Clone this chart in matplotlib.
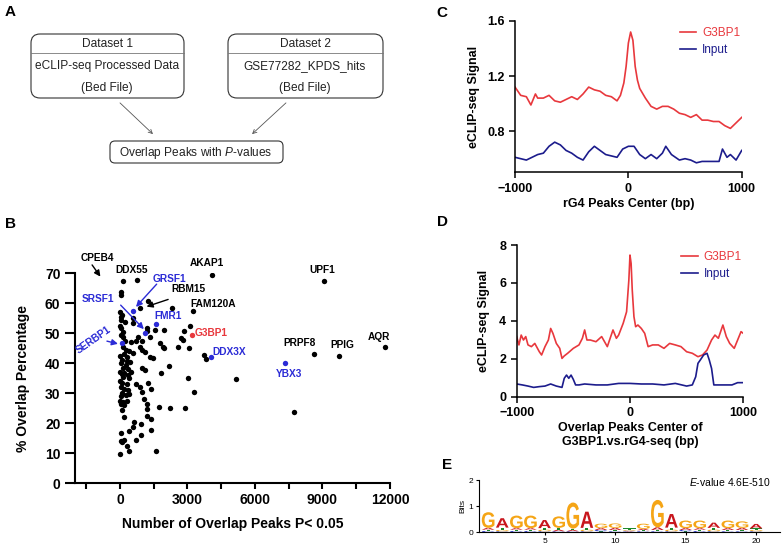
import matplotlib
matplotlib.use('Agg')
import matplotlib.pyplot as plt
from matplotlib.patches import FancyBboxPatch, PathPatch
from matplotlib.textpath import TextPath
from matplotlib.font_manager import FontProperties
from matplotlib.transforms import Affine2D

plt.rcParams['font.family'] = 'Liberation Sans'
plt.rcParams['mathtext.fontset'] = 'custom'
plt.rcParams['mathtext.rm'] = 'Liberation Sans'
plt.rcParams['mathtext.it'] = 'Liberation Sans:italic'
plt.rcParams['mathtext.bf'] = 'Liberation Sans:bold'

RED = '#e8383d'
NAVY = '#1c1c8c'
BLUE = '#2b2bd6'

# ---- panel B data: overlap peaks vs % overlap
peaks_x = [150, 740, 4090, 30, 30, 890, 1230, 2290, 3250, 9050, 8640, 9720, 11790, 7750,
           30, 60, 220, 560, 560, 40, 150, 30, 150, 220, 480, 1200, 1200, 1550, 1950, 1330, 800, 700, 1000, 0, 100, 0,
           3100, 2860, 2710, 2800, 2560, 3070, 3720, 3840, 890, 1000, 1100, 1770, 1900, 1960, 1330, 1480, 2190, 1000,
           1100, 1820, 3030, 5170, 3300,
           150, 250, 400, 200, 300, 100, 450, 50, 250, 150, 350, 500, 80, 0, 200, 350, 600, 0, 300,
           150, 400, 0, 100, 300, 710, 890, 960, 1230, 1360, 60, 200, 350, 100, 250, 30, 400, 1080, 0, 150, 300, 60,
           200, 1200, 1200, 1740, 2220, 2880, 75,
           180, 1180, 1370, 620, 560, 930, 1360, 30, 410, 920, 710, 30, 100, 180, 320, 410, 1600, 0]
overlap_pct = [67.4, 67.7, 69.2, 63.8, 62.7, 58.2, 60.8, 58.2, 57.4, 67.4, 43.0, 42.4, 45.4, 23.7,
               55.5, 54.2, 53.8, 54.9, 53.2, 51.7, 50.5, 49.2, 48.7, 47.2, 47.0, 51.7, 50.7, 51.0, 51.0, 48.6, 48.8, 47.5,
               47.3, 57.0, 56.0, 52.5,
               52.3, 50.7, 48.3, 47.8, 45.4, 45.1, 42.7, 41.4, 45.2, 44.5, 43.7, 46.8, 45.5, 45.0, 42.1, 41.6, 39.0, 38.3,
               37.8, 36.6, 34.9, 34.7, 30.4,
               45.5, 44.5, 44.0, 43.0, 42.0, 41.0, 40.5, 40.0, 39.5, 38.5, 38.0, 37.0, 36.5, 37.0, 36.8, 36.0, 43.5, 42.5,
               40.8,
               35.5, 35.0, 34.0, 33.3, 33.0, 33.0, 32.1, 30.4, 33.2, 31.2, 32.0, 31.5, 31.0, 30.0, 29.5, 29.0, 29.8, 27.9,
               27.5, 27.0, 27.5, 26.3, 26.0, 26.3, 24.7, 25.4, 25.1, 25.0, 24.3,
               22.1, 22.3, 21.5, 20.4, 18.6, 19.6, 17.7, 16.8, 17.3, 16.0, 14.3, 14.0, 13.6, 14.2, 12.3, 10.8, 10.8, 9.7]
blue_x = [590, 1620, 1110, 75, 4060, 7350]
blue_y = [57.4, 53.0, 50.1, 46.7, 42.1, 40.1]
g3bp1_x = [3220]
g3bp1_y = [49.2]

gene_names = ['CPEB4', 'DDX55', 'AKAP1', 'GRSF1', 'RBM15', 'SRSF1', 'FAM120A', 'FMR1', 'G3BP1',
              'SERBP1', 'DDX3X', 'YBX3', 'PRPF8', 'PPIG', 'AQR', 'UPF1']
gene_lx = [-1020, 519, 3843, 2217, 3028, -962, 4136, 2141, 4065, -1184, 4845, 7536, 7979, 9872, 11526, 8986]
gene_ly = [75, 71, 73.4, 67.9, 64.7, 61.2, 59.7, 55.7, 50.1, 47.7, 43.8, 36.3, 46.8, 46.0, 48.7, 71.0]
gene_col = ['k', 'k', 'k', BLUE, 'k', BLUE, 'k', BLUE, RED, BLUE, BLUE, BLUE, 'k', 'k', 'k', 'k']

# arrows: (tail, head, colour)
arrows = [((-1240, 72.7), (-870, 68.8), 'k'),
          ((1630, 66.3), (710, 58.7), BLUE),
          ((2140, 61.2), (1180, 58.8), 'k'),
          ((30, 59.3), (1060, 51.3), BLUE),
          ((-580, 47.3), (-90, 46.4), BLUE)]

# ---- panel C data
c_pos = [-1000, -950, -900, -860, -820, -800, -750, -700, -650, -600, -550, -500, -450, -400, -350, -300, -250,
         -200, -150, -100, -70, -40, -20, 0, 20, 40, 60, 80, 100, 150, 200, 250, 300, 350, 400, 450, 500, 550,
         600, 650, 700, 750, 800, 850, 900, 950, 1000]
c_g3bp1 = [1.12, 1.06, 1.05, 0.99, 1.07, 1.04, 1.04, 1.06, 1.02, 1.01, 1.03, 1.05, 1.03, 1.07, 1.12, 1.10, 1.09,
           1.06, 1.05, 1.02, 1.06, 1.15, 1.27, 1.44, 1.52, 1.46, 1.27, 1.17, 1.11, 1.04, 0.98, 0.96, 0.98, 0.98,
           0.96, 0.93, 0.92, 0.90, 0.92, 0.88, 0.88, 0.87, 0.87, 0.84, 0.82, 0.86, 0.90]
ci_pos = [-1000, -950, -900, -850, -800, -750, -700, -650, -600, -550, -500, -450, -400, -350, -300, -250, -200,
          -150, -100, -50, 0, 50, 100, 150, 200, 250, 300, 330, 380, 450, 500, 550, 600, 650, 700, 750, 800, 830,
          870, 900, 950, 1000]
c_input = [0.61, 0.60, 0.59, 0.61, 0.63, 0.64, 0.69, 0.72, 0.70, 0.66, 0.64, 0.61, 0.59, 0.65, 0.69, 0.66, 0.63,
           0.62, 0.61, 0.67, 0.69, 0.69, 0.63, 0.60, 0.63, 0.60, 0.64, 0.69, 0.63, 0.59, 0.60, 0.59, 0.57, 0.58,
           0.58, 0.58, 0.58, 0.67, 0.61, 0.63, 0.59, 0.66]

# ---- panel D data
d_pos = [-1000, -980, -960, -940, -920, -900, -870, -840, -800, -780, -750, -720, -700, -680, -650, -620, -600,
         -580, -550, -500, -450, -420, -400, -380, -350, -300, -250, -200, -150, -120, -100, -60, -30, -10, 0, 10,
         20, 35, 50, 70, 100, 130, 160, 200, 250, 300, 350, 400, 450, 500, 550, 600, 640, 680, 720, 750, 780, 820,
         850, 880, 920, 950, 980, 1000]
d_g3bp1 = [3.17, 2.73, 3.25, 2.99, 3.17, 2.73, 2.64, 2.81, 2.37, 2.2, 2.64, 2.99, 3.6, 3.34, 2.81, 2.55, 2.02,
           2.15, 2.29, 2.55, 2.73, 3.08, 3.52, 2.99, 2.99, 2.9, 3.17, 2.64, 3.52, 3.08, 3.25, 3.87, 4.48, 6.15, 7.47,
           7.03, 5.63, 4.22, 3.69, 3.78, 3.6, 3.34, 2.64, 2.73, 2.73, 2.55, 2.81, 2.73, 2.64, 2.37, 2.29, 2.11, 2.2,
           2.46, 2.99, 3.25, 3.08, 3.78, 3.17, 2.81, 2.55, 2.99, 3.43, 3.34]
di_pos = [-1000, -950, -900, -850, -800, -750, -700, -650, -600, -580, -560, -540, -520, -500, -480, -450, -400,
          -300, -200, -100, 0, 100, 200, 300, 400, 500, 550, 580, 600, 620, 650, 680, 700, 720, 740, 800, 850, 900,
          950, 1000]
d_input = [0.67, 0.62, 0.56, 0.49, 0.53, 0.56, 0.67, 0.56, 0.49, 0.97, 1.14, 0.97, 1.14, 0.91, 0.62, 0.62, 0.67,
           0.62, 0.62, 0.70, 0.70, 0.67, 0.67, 0.62, 0.70, 0.56, 0.62, 1.05, 1.76, 1.93, 2.2, 2.29, 1.93, 1.49, 0.62,
           0.62, 0.62, 0.62, 0.74, 0.74]

# ---- panel E motif (bits per base at positions 1..20)
motif_a = [0.07, 0.36, 0.06, 0.06, 0.31, 0.06, 0.05, 0.62, 0.07, 0.08, 0.03, 0.05, 0.10, 0.52, 0.07, 0.06, 0.20, 0.07, 0.08, 0.17]
motif_c = [0.05, 0.04, 0.05, 0.05, 0.04, 0.04, 0.04, 0.04, 0.05, 0.04, 0.03, 0.04, 0.04, 0.04, 0.05, 0.05, 0.04, 0.04, 0.04, 0.04]
motif_g = [0.60, 0.05, 0.48, 0.48, 0.06, 0.44, 1.00, 0.06, 0.17, 0.17, 0.03, 0.20, 1.05, 0.06, 0.29, 0.29, 0.06, 0.29, 0.25, 0.05]
motif_t = [0.05, 0.09, 0.05, 0.05, 0.06, 0.07, 0.05, 0.07, 0.04, 0.05, 0.06, 0.04, 0.05, 0.08, 0.04, 0.05, 0.07, 0.05, 0.05, 0.06]
base_colors = {'A': '#c8161d', 'C': '#2030c8', 'G': '#f5a516', 'T': '#1e8a2e'}

fig = plt.figure(figsize=(7.82, 5.44), dpi=100)

# ---- B scatter
axB = fig.add_axes([0.0959, 0.1121, 0.4028, 0.386])
axB.scatter(peaks_x, overlap_pct, s=15, color='k', zorder=3, linewidths=0)
axB.scatter(blue_x, blue_y, s=15, color=BLUE, zorder=3, linewidths=0)
axB.scatter(g3bp1_x, g3bp1_y, s=15, color=RED, zorder=3, linewidths=0)
for name, lx, ly, c in zip(gene_names, gene_lx, gene_ly, gene_col):
    rot = 35 if name == 'SERBP1' else 0
    axB.text(lx, ly, name, color=c, fontsize=7.3, fontweight='bold', ha='center', va='center',
             rotation=rot, clip_on=False)
for tail, head, c in arrows:
    axB.annotate('', xy=head, xytext=tail, annotation_clip=False,
                 arrowprops=dict(arrowstyle='-|>', color=c, lw=1, mutation_scale=9, shrinkA=0, shrinkB=0))
axB.set_xlim(-2000, 12000)
axB.set_ylim(0, 70)
axB.set_xticks([0, 3000, 6000, 9000, 12000])
axB.set_xticks([-1500, 1500, 4500, 7500, 10500], minor=True)
axB.set_yticks(range(0, 71, 10))
for s in ['top', 'right']:
    axB.spines[s].set_visible(False)
for s in ['left', 'bottom']:
    axB.spines[s].set_linewidth(1.5)
axB.tick_params(axis='x', which='both', length=4, width=1.5, labelsize=10)
axB.tick_params(axis='y', length=7, width=1.5, labelsize=10)
for lab in axB.get_xticklabels() + axB.get_yticklabels():
    lab.set_fontweight('bold')
axB.set_xlabel('Number of Overlap Peaks P< 0.05', fontsize=10, fontweight='bold')
axB.set_ylabel('% Overlap Percentage', fontsize=10, fontweight='bold')
axB.xaxis.set_label_coords(0.5, -0.16)
axB.yaxis.set_label_coords(-0.143, 0.5)


def profile_axes(ax, ylim, yticks, ylabel, xlabel, ylab_x):
    ax.set_xlim(-1000, 1000)
    ax.set_ylim(*ylim)
    ax.set_xticks([-1000, 0, 1000])
    ax.set_yticks(yticks)
    for s in ['top', 'right']:
        ax.spines[s].set_visible(False)
    for s in ['left', 'bottom']:
        ax.spines[s].set_linewidth(1.1)
    ax.tick_params(length=4, width=1.1, labelsize=9)
    for lab in ax.get_xticklabels() + ax.get_yticklabels():
        lab.set_fontweight('bold')
    ax.set_ylabel(ylabel, fontsize=9, fontweight='bold')
    ax.set_xlabel(xlabel, fontsize=9, fontweight='bold', linespacing=1.15)
    ax.yaxis.set_label_coords(ylab_x, 0.5)
    ax.xaxis.set_label_coords(0.5, -0.17)
    ax.legend(loc='upper left', bbox_to_anchor=(0.7, 1.0), frameon=False, fontsize=8.5,
              handlelength=1.4, handletextpad=0.5, labelspacing=0.45, borderpad=0,
              labelcolor='linecolor')


# ---- C profile
axC = fig.add_axes([0.6586, 0.683, 0.2899, 0.2784])
axC.plot(c_pos, c_g3bp1, color=RED, lw=1.2, label='G3BP1')
axC.plot(ci_pos, c_input, color=NAVY, lw=1.2, label='Input')
profile_axes(axC, (0.5, 1.6), [0.8, 1.2, 1.6], 'eCLIP-seq Signal', 'rG4 Peaks Center (bp)', -0.155)

# ---- D profile
axD = fig.add_axes([0.6607, 0.2708, 0.2898, 0.2788])
axD.plot(d_pos, d_g3bp1, color=RED, lw=1.2, label='G3BP1')
axD.plot(di_pos, d_input, color=NAVY, lw=1.2, label='Input')
profile_axes(axD, (0, 8), [0, 2, 4, 6, 8], 'eCLIP-seq Signal',
             'Overlap Peaks Center of\nG3BP1.vs.rG4-seq (bp)', -0.118)

# ---- E motif logo
axE = fig.add_axes([0.6125, 0.0215, 0.385, 0.096])
fp = FontProperties(family='Liberation Sans', weight='bold')


def draw_letter(ax, base, x, y, h, w=0.9):
    tp = TextPath((0, 0), base, size=1, prop=fp)
    bb = tp.get_extents()
    tr = Affine2D().translate(-bb.x0, -bb.y0).scale(w / bb.width, h / bb.height).translate(x - w / 2, y)
    ax.add_patch(PathPatch(tr.transform_path(tp), facecolor=base_colors[base], edgecolor='none'))


for i in range(20):
    stack = sorted([('A', motif_a[i]), ('C', motif_c[i]), ('G', motif_g[i]), ('T', motif_t[i])],
                   key=lambda t: t[1])
    y0 = 0
    for base, h in stack:
        draw_letter(axE, base, i + 1, y0, h)
        y0 += h
axE.set_xlim(0.35, 21.7)
axE.set_ylim(0, 2)
axE.set_xticks([5, 10, 15, 20])
axE.set_yticks([0, 1, 2])
for s in ['top', 'right']:
    axE.spines[s].set_visible(False)
axE.spines['left'].set_linewidth(0.8)
axE.spines['bottom'].set_linewidth(0.8)
axE.tick_params(length=2.5, width=0.8, labelsize=6, pad=1.5)
axE.set_ylabel('Bits', fontsize=6, labelpad=2)
axE.text(0.97, 0.97, '$\\it{E}$-value 4.6E-510', transform=axE.transAxes, ha='right', va='center', fontsize=7.5)

# ---- A flow chart and panel letters (pixel overlay)
ov = fig.add_axes([0, 0, 1, 1], zorder=10)
ov.set_xlim(0, 782)
ov.set_ylim(544, 0)
ov.axis('off')
ov.patch.set_alpha(0)
for x0, w in [(31, 153), (228, 155)]:
    ov.add_patch(FancyBboxPatch((x0, 34), w, 64, boxstyle='round,pad=0,rounding_size=9',
                                fc='none', ec='#333333', lw=0.8))
    ov.plot([x0, x0 + w], [53, 53], color='#777777', lw=0.6)
ov.add_patch(FancyBboxPatch((110, 141), 173, 22, boxstyle='round,pad=0,rounding_size=5',
                            fc='none', ec='#333333', lw=0.8))
box_texts = [(107, 44, 'Dataset 1'), (107, 66, 'eCLIP-seq Processed Data'), (107, 88, '(Bed File)'),
             (305, 44, 'Dataset 2'), (305, 66, 'GSE77282_KPDS_hits'), (305, 88, '(Bed File)'),
             (196, 153, 'Overlap Peaks with $\\it{P}$-values')]
for tx, ty, t in box_texts:
    ov.text(tx, ty, t, ha='center', va='center', fontsize=8.6, color='#222222')
for tail, head in [((118, 101), (155, 136)), ((288, 101), (250, 136))]:
    ov.annotate('', xy=head, xytext=tail,
                arrowprops=dict(arrowstyle='->', color='#555555', lw=0.6, mutation_scale=7))
for lx, ly, t in [(10, 12, 'A'), (10, 224, 'B'), (442, 13, 'C'), (442, 222, 'D'), (447, 465, 'E')]:
    ov.text(lx, ly, t, ha='center', va='center', fontsize=11, fontweight='bold')

fig.savefig('out.png', dpi=100)
